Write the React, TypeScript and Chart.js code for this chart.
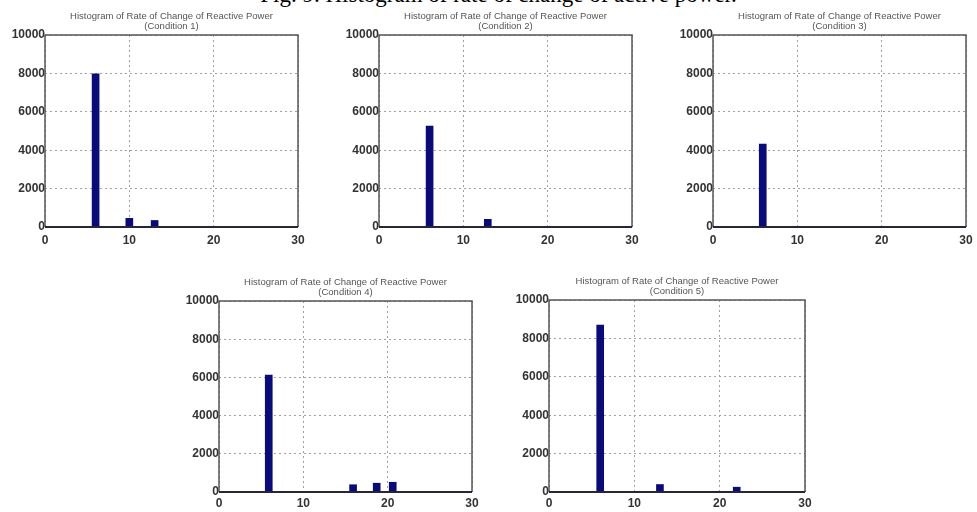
import React, { useEffect, useRef } from "react";
import { Chart, registerables } from "chart.js";

Chart.register(...registerables);

// Axis ticks shared by every panel
const xTicks = [0, 10, 20, 30];
const yTicks = [0, 2000, 4000, 6000, 8000, 10000];

const caption = "Fig. 9. Histogram of rate of change of active power.";
const panelTitle = "Histogram of Rate of Change of Reactive Power";

// Histogram bins (bin centres) and counts for each operating condition
const bins1 = [6.0, 10.0, 13.0];
const counts1 = [7980, 450, 340];

const bins2 = [6.0, 12.9];
const counts2 = [5250, 400];

const bins3 = [5.9];
const counts3 = [4320];

const bins4 = [5.9, 15.9, 18.7, 20.6];
const counts4 = [6120, 380, 460, 510];

const bins5 = [6.0, 13.0, 22.0];
const counts5 = [8700, 390, 250];

const SANS = "'Liberation Sans', Arial, sans-serif";

// space around the plot area inside each canvas
const PAD_L = 50;
const PAD_T = 35;
const PAD_R = 15;
const PAD_B = 22;

type PanelProps = {
  left: number;
  top: number;
  width: number;
  height: number;
  bins: number[];
  counts: number[];
  subtitle: string;
  labelGap: number;
};

function HistPanel({ left, top, width, height, bins, counts, subtitle, labelGap }: PanelProps) {
  const ref = useRef<HTMLCanvasElement | null>(null);
  const cw = width + PAD_L + PAD_R;
  const ch = height + PAD_T + PAD_B;

  useEffect(() => {
    if (!ref.current) return;

    const boxPlugin = {
      id: "boxFrame",
      afterDatasetsDraw(chart: any) {
        const { ctx, chartArea: a } = chart;
        ctx.save();
        ctx.strokeStyle = "#555";
        ctx.lineWidth = 1.5;
        ctx.beginPath();
        ctx.moveTo(a.left, a.bottom);
        ctx.lineTo(a.left, a.top);
        ctx.lineTo(a.right, a.top);
        ctx.lineTo(a.right, a.bottom);
        ctx.stroke();
        // zero-count bins lie along the base line
        ctx.strokeStyle = "#262636";
        ctx.lineWidth = 2;
        ctx.beginPath();
        ctx.moveTo(a.left, a.bottom);
        ctx.lineTo(a.right, a.bottom);
        ctx.stroke();
        ctx.restore();
      },
    };

    const headingPlugin = {
      id: "panelHeading",
      afterDraw(chart: any) {
        const { ctx, chartArea: a } = chart;
        const cx = (a.left + a.right) / 2;
        ctx.save();
        ctx.fillStyle = "#555";
        ctx.font = `9.5px ${SANS}`;
        ctx.textAlign = "center";
        ctx.textBaseline = "middle";
        ctx.fillText(panelTitle, cx, a.top - 19);
        ctx.fillText(subtitle, cx, a.top - 9);
        ctx.restore();
      },
    };

    const tickFont = { family: SANS, size: 12, weight: "bold" as const };

    const chart = new Chart(ref.current, {
      type: "bar",
      data: {
        datasets: [
          {
            data: bins.map((x, i) => ({ x, y: counts[i] })),
            backgroundColor: "#0b0b78",
            borderWidth: 0,
            barThickness: 7,
          },
        ],
      },
      options: {
        responsive: false,
        animation: false,
        devicePixelRatio: 1,
        layout: { padding: { left: 0, top: PAD_T, right: PAD_R, bottom: 0 } },
        plugins: {
          legend: { display: false },
          tooltip: { enabled: false },
          title: { display: false },
        },
        scales: {
          x: {
            type: "linear",
            min: 0,
            max: 30,
            offset: false,
            afterBuildTicks: (s: any) => {
              s.ticks = xTicks.map((v) => ({ value: v }));
            },
            afterFit: (s: any) => {
              s.height = PAD_B;
            },
            grid: { color: "#a0a0a0", lineWidth: 1, drawTicks: false, offset: false },
            border: { display: false, dash: [2, 3] },
            ticks: {
              padding: labelGap,
              color: "#333",
              font: tickFont,
              maxRotation: 0,
              autoSkip: false,
              callback: (v: any) => String(v),
            },
          },
          y: {
            type: "linear",
            min: 0,
            max: 10000,
            afterBuildTicks: (s: any) => {
              s.ticks = yTicks.map((v) => ({ value: v }));
            },
            afterFit: (s: any) => {
              s.width = PAD_L;
            },
            grid: { color: "#a0a0a0", lineWidth: 1, drawTicks: false },
            border: { display: false, dash: [2, 3] },
            ticks: {
              padding: 0,
              color: "#333",
              font: tickFont,
              autoSkip: false,
              callback: (v: any) => String(v),
            },
          },
        },
      } as any,
      plugins: [boxPlugin, headingPlugin],
    });

    return () => chart.destroy();
  }, [bins, counts, subtitle, labelGap]);

  return (
    <canvas
      ref={ref}
      width={cw}
      height={ch}
      style={{
        position: "absolute",
        left: left - PAD_L,
        top: top - PAD_T,
        width: cw,
        height: ch,
      }}
    />
  );
}

export default function App() {
  return (
    <div
      style={{
        position: "fixed",
        left: 0,
        top: 0,
        width: 977,
        height: 512,
        background: "#fff",
        overflow: "hidden",
      }}
    >
      <div
        style={{
          position: "absolute",
          left: 10,
          top: -17,
          width: 977,
          textAlign: "center",
          fontFamily: "'Liberation Serif', 'Times New Roman', serif",
          fontSize: 23,
          lineHeight: "23px",
          whiteSpace: "nowrap",
          color: "#000",
        }}
      >
        {caption}
      </div>
      <HistPanel left={45} top={35} width={253} height={192} bins={bins1} counts={counts1} subtitle="(Condition 1)" labelGap={6} />
      <HistPanel left={379} top={35} width={253} height={192} bins={bins2} counts={counts2} subtitle="(Condition 2)" labelGap={6} />
      <HistPanel left={713} top={35} width={253} height={192} bins={bins3} counts={counts3} subtitle="(Condition 3)" labelGap={6} />
      <HistPanel left={219} top={301} width={253} height={191} bins={bins4} counts={counts4} subtitle="(Condition 4)" labelGap={4} />
      <HistPanel left={549} top={300} width={256} height={192} bins={bins5} counts={counts5} subtitle="(Condition 5)" labelGap={4} />
    </div>
  );
}
